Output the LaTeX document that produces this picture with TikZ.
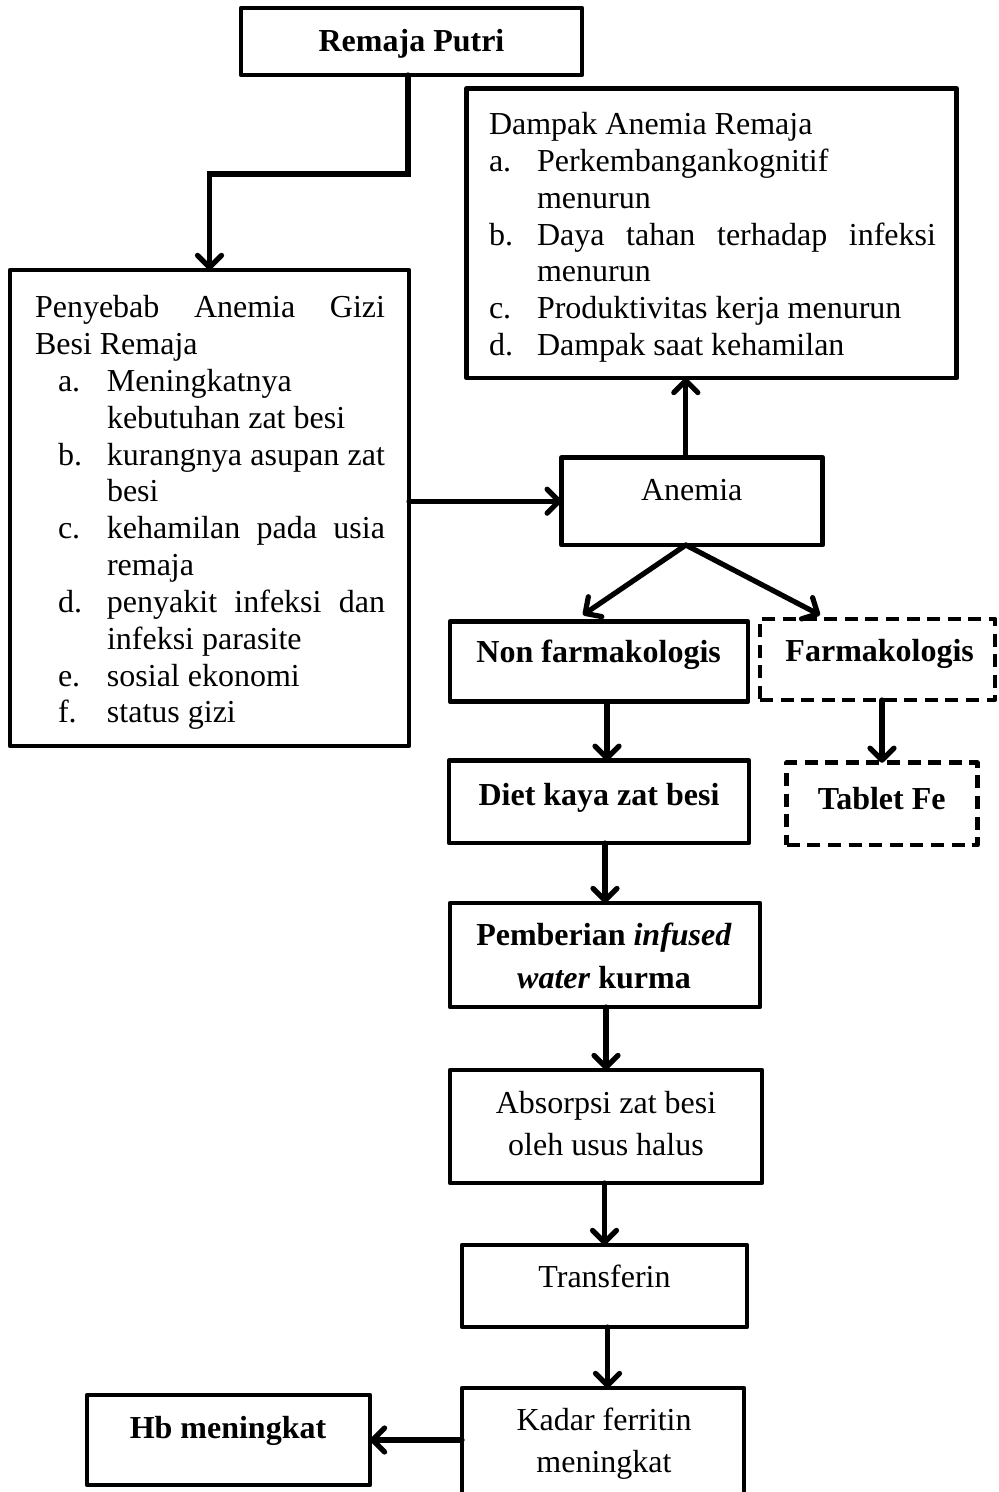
\documentclass[tikz,border=0pt]{standalone}
\usepackage{fontspec}
\setmainfont{Liberation Serif}
\usetikzlibrary{arrows.meta}
\newcommand\penI[1]{\hskip11.5pt\hbox to24.5pt{#1\hss}}
\newcommand\penC{\hskip36pt}
\newcommand\damI[1]{\hbox to24pt{#1\hss}}
\newcommand\damC{\hskip24pt}
\begin{document}
\begin{tikzpicture}[x=0.5pt,y=-0.5pt,
  box/.style={draw, rectangle, line width=2.3pt, inner sep=0pt, outer sep=0pt, line join=round},
  dbox/.style={box, dash pattern=on 6.5pt off 3.8pt},
  txt/.style={inner sep=0pt, outer sep=0pt, anchor=base, font=\fontsize{16pt}{18.4pt}\selectfont},
  blk/.style={inner sep=0pt, outer sep=0pt, anchor=base west, font=\fontsize{16pt}{18.4pt}\selectfont},
  arr/.style={line width=2.6pt, line cap=round, -{Straight Barb[length=6pt,width=12pt,round]}},
]
\path[use as bounding box, clip] (0,0) rectangle (998,1492);

% boxes
\node[box, minimum width=170.5pt, minimum height=33.5pt] (remaja) at (411.5,41.5) {};
\node[box, minimum width=245pt, minimum height=144.75pt] (dampak) at (711.7,233.25) {};
\node[box, minimum width=199.5pt, minimum height=238pt] (penyebab) at (209.5,508) {};
\node[box, minimum width=130.5pt, minimum height=43.85pt] (anemia) at (692.2,501.2) {};
\node[box, minimum width=149pt, minimum height=40pt] (nonfarm) at (599,661.7) {};
\node[dbox, minimum width=117.5pt, minimum height=40.5pt] (farm) at (877.5,659.5) {};
\node[box, minimum width=150pt, minimum height=41.15pt] (diet) at (599,801.9) {};
\node[dbox, minimum width=95.3pt, minimum height=41.15pt] (tablet) at (882,803.9) {};
\node[box, minimum width=155pt, minimum height=52pt] (pemberian) at (605,955) {};
\node[box, minimum width=156pt, minimum height=56.5pt] (absorpsi) at (606,1126.5) {};
\node[box, minimum width=142.5pt, minimum height=41pt] (transferin) at (604.5,1286) {};
\node[box, minimum width=141pt, minimum height=56pt] (kadar) at (603,1444) {};
\node[box, minimum width=141.5pt, minimum height=45pt] (hb) at (228.5,1440) {};

% texts
\node[txt] (tremaja) at (411.5,52) {\textbf{Remaja Putri}};
\node[blk] (tdampak) at (489,135) {\vtop{\baselineskip=18.35pt
  \hbox{Dampak Anemia Remaja}
  \hbox{\damI{a.}Perkembangankognitif}
  \hbox{\damC menurun}
  \hbox{\damI{b.}\hbox to 199.5pt{Daya\hfill tahan\hfill terhadap\hfill infeksi}}
  \hbox{\damC menurun}
  \hbox{\damI{c.}Produktivitas kerja menurun}
  \hbox{\damI{d.}Dampak saat kehamilan}}};
\node[blk] (tpenyebab) at (35,318) {\vtop{\baselineskip=18.4pt
  \hbox to 175pt{Penyebab\hfill Anemia\hfill Gizi}
  \hbox{Besi Remaja}
  \hbox{\penI{a.}Meningkatnya}
  \hbox{\penC kebutuhan zat besi}
  \hbox{\penI{b.}\hbox to 139pt{kurangnya\hfill asupan\hfill zat}}
  \hbox{\penC besi}
  \hbox{\penI{c.}\hbox to 139pt{kehamilan\hfill pada\hfill usia}}
  \hbox{\penC remaja}
  \hbox{\penI{d.}\hbox to 139pt{penyakit\hfill infeksi\hfill dan}}
  \hbox{\penC infeksi parasite}
  \hbox{\penI{e.}sosial ekonomi}
  \hbox{\penI{f.}status gizi}}};
\node[txt] (tanemia) at (691.7,500) {Anemia};
\node[txt] (tnonfarm) at (598.7,662.7) {\textbf{Non farmakologis}};
\node[txt] (tfarm) at (879.7,661.7) {\textbf{Farmakologis}};
\node[txt] (tdiet) at (599,805) {\textbf{Diet kaya zat besi}};
\node[txt] (ttablet) at (881.7,809) {\textbf{Tablet Fe}};
\node[txt] (tpemb1) at (604,945) {\textbf{Pemberian \textit{infused}}};
\node[txt] (tpemb2) at (604,988) {\textbf{\textit{water} kurma}};
\node[txt] (tabs1) at (606,1113) {Absorpsi zat besi};
\node[txt] (tabs2) at (606,1155) {oleh usus halus};
\node[txt] (ttrans) at (604.5,1287) {Transferin};
\node[txt] (tkadar1) at (604,1430) {Kadar ferritin};
\node[txt] (tkadar2) at (604,1472) {meningkat};
\node[txt] (thb) at (228,1438) {\textbf{Hb meningkat}};

% connectors
\draw[arr] ([xshift=-1.75pt]remaja.south) -- ++(0,99) -| (penyebab.north);
\draw[arr] (penyebab.east |- anemia.west) -- (anemia.west);
\draw[arr] ([xshift=-3.2pt]anemia.north) -- ([xshift=-3.2pt]anemia.north |- dampak.south);
\draw[arr] ([xshift=-3.2pt]anemia.south) -- ([xshift=-8pt,yshift=3.4pt]nonfarm.north);
\draw[arr] ([xshift=-3.2pt]anemia.south) -- ([xshift=-28.75pt,yshift=2pt]farm.north);
\draw[arr] ([xshift=4pt]nonfarm.south) -- ([xshift=4pt]nonfarm.south |- diet.north);
\draw[arr] (tablet.north |- farm.south) -- (tablet.north);
\draw[arr] (pemberian.north |- diet.south) -- (pemberian.north);
\draw[arr] (absorpsi.north |- pemberian.south) -- (absorpsi.north);
\draw[arr] (transferin.north |- absorpsi.south) -- (transferin.north);
\draw[arr] ([xshift=1.5pt]transferin.south) -- ([xshift=1.5pt]transferin.south |- kadar.north);
\draw[arr] (kadar.west |- hb.east) -- (hb.east);
\end{tikzpicture}
\end{document}
